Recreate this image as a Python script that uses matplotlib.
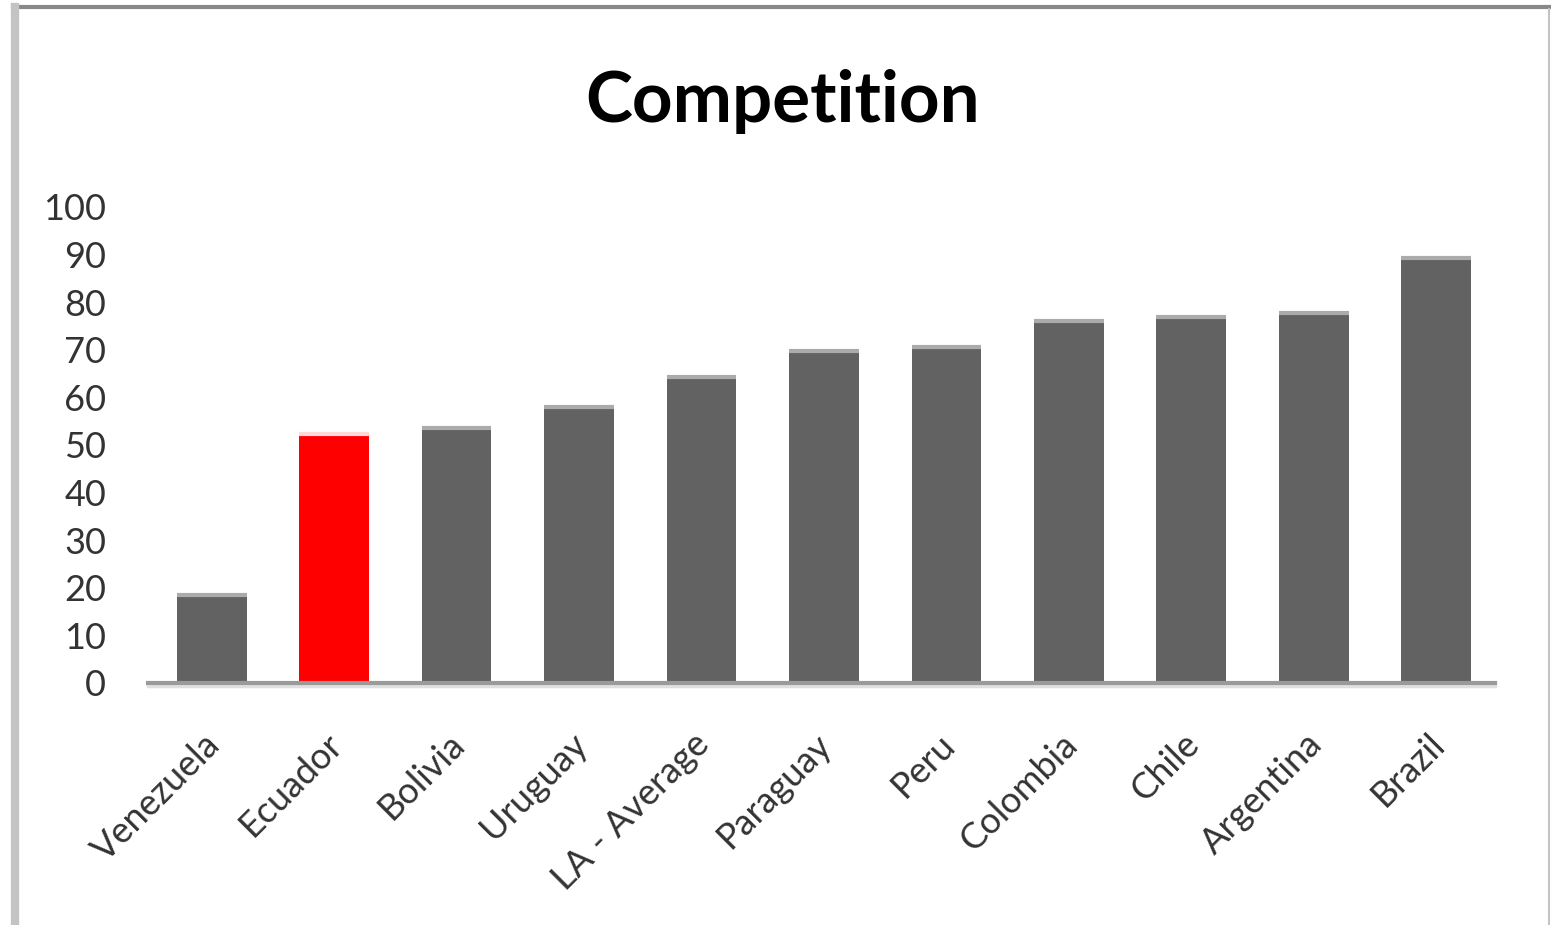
import matplotlib
matplotlib.use("Agg")
import matplotlib.pyplot as plt
from matplotlib.lines import Line2D
from matplotlib.transforms import ScaledTranslation

countries = ["Venezuela", "Ecuador", "Bolivia", "Uruguay", "LA - Average",
             "Paraguay", "Peru", "Colombia", "Chile", "Argentina", "Brazil"]
values = [18.5, 52.3, 53.6, 58.0, 64.3, 69.7, 70.6, 76.0, 76.9, 77.7, 89.3]
highlight = "Ecuador"
yticks = [0, 10, 20, 30, 40, 50, 60, 70, 80, 90, 100]
title = "Competition"

plt.rcParams['font.family'] = ['Lato', 'DejaVu Sans']

fig = plt.figure(figsize=(15.51, 9.25), dpi=100)
ax = fig.add_axes([148/1551, 1-683/925, (1495-148)/1551, (683-207)/925])

x = list(range(len(countries)))
colors = ["#ff0000" if c == highlight else "#626262" for c in countries]
width = 0.57
ax.bar(x, values, width=width, color=colors, zorder=2)
tops = ["#ffd8d8" if c == highlight else "#ababab" for c in countries]
for xi, v, tc in zip(x, values, tops):
    ax.hlines(v, xi - width/2, xi + width/2, color=tc, lw=3, zorder=3)

ax.set_xlim(-0.52, 10.48)
ax.set_ylim(0, 100)
ax.set_yticks(yticks)
ax.set_yticklabels([str(t) for t in yticks])
ax.set_xticks(x)
ax.set_xticklabels(countries, rotation=45, ha='right', va='top',
                   rotation_mode='anchor')

for s in ['top', 'right', 'left']:
    ax.spines[s].set_visible(False)
ax.spines['bottom'].set_color('#9a9a9a')
ax.spines['bottom'].set_linewidth(3)
ax.spines['bottom'].set_zorder(4)
ax.axhline(-0.6, color='#e0e0e0', lw=2.5, zorder=1, clip_on=False)

ax.tick_params(axis='y', length=0, pad=30, labelsize=26, labelcolor='#333333')
ax.tick_params(axis='x', length=0, pad=32, labelsize=26, labelcolor='#333333')
offset = ScaledTranslation(-0.09, 0, fig.dpi_scale_trans)
for lbl in ax.get_xticklabels():
    lbl.set_transform(lbl.get_transform() + offset)

fig.text(783/1551, 1-101/925, title, ha='center', va='center',
         fontsize=51, fontweight='bold', color='#000000')

# chart frame
fig.add_artist(Line2D([13/1551, 1.0], [1-7/925, 1-7/925], transform=fig.transFigure,
                      color='#888888', lw=3))
fig.add_artist(Line2D([15/1551, 15/1551], [0, 1-7/925], transform=fig.transFigure,
                      color='#c4c4c4', lw=6))
fig.add_artist(Line2D([1549/1551, 1549/1551], [0, 1-9/925], transform=fig.transFigure,
                      color='#c4c4c4', lw=1.5))

fig.savefig("out.png", dpi=100)
